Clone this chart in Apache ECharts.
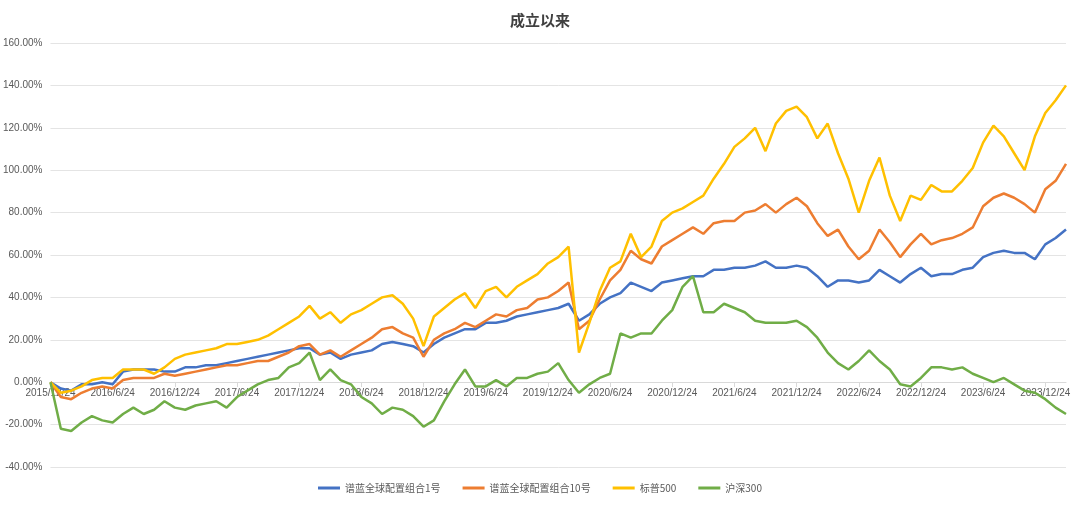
<!DOCTYPE html>
<html><head><meta charset="utf-8">
<script src="https://cdn.jsdelivr.net/npm/echarts@6/dist/echarts.min.js"></script>
<style>html,body{margin:0;padding:0;background:#fff}#c{width:1080px;height:506px}</style>
</head><body><div id="c"></div>
<script>
const categories = [];
for (let y = 2015, m = 12, k = 0; k < 99; k++) { categories.push(y + '/' + m + '/24'); m++; if (m > 12) { m = 1; y++; } }
const seriesNames = ['谱蓝全球配置组合1号', '谱蓝全球配置组合10号', '标普500', '沪深300'];
const fund1 = [0,-3,-4,-1,-1,0,-1,5,6,6,6,5,5,7,7,8,8,9,10,11,12,13,14,15,16,16,13,14,11,13,14,15,18,19,18,17,14,18,21,23,25,25,28,28,29,31,32,33,34,35,37,29,32,37,40,42,47,45,43,47,48,49,50,50,53,53,54,54,55,57,54,54,55,54,50,45,48,48,47,48,53,50,47,51,54,50,51,51,53,54,59,61,62,61,61,58,65,68,72];
const fund10 = [0,-7,-8,-5,-3,-2,-3,1,2,2,2,4,3,4,5,6,7,8,8,9,10,10,12,14,17,18,13,15,12,15,18,21,25,26,23,21,12,20,23,25,28,26,29,32,31,34,35,39,40,43,47,25,29,39,48,53,62,58,56,64,67,70,73,70,75,76,76,80,81,84,80,84,87,83,75,69,72,64,58,62,72,66,59,65,70,65,67,68,70,73,83,87,89,87,84,80,91,95,103];
const sp500 = [0,-5,-4,-2,1,2,2,6,6,6,4,7,11,13,14,15,16,18,18,19,20,22,25,28,31,36,30,33,28,32,34,37,40,41,37,30,17,31,35,39,42,35,43,45,40,45,48,51,56,59,64,14,28,43,54,57,70,59,64,76,80,82,85,88,96,103,111,115,120,109,122,128,130,125,115,122,108,96,80,95,106,88,76,88,86,93,90,90,95,101,113,121,116,108,100,116,127,133,140];
const csi300 = [0,-22,-23,-19,-16,-18,-19,-15,-12,-15,-13,-9,-12,-13,-11,-10,-9,-12,-7,-4,-1,1,2,7,9,14,1,6,1,-1,-7,-10,-15,-12,-13,-16,-21,-18,-9,-1,6,-2,-2,1,-2,2,2,4,5,9,1,-5,-1,2,4,23,21,23,23,29,34,45,50,33,33,37,35,33,29,28,28,28,29,26,21,14,9,6,10,15,10,6,-1,-2,2,7,7,6,7,4,2,0,2,-1,-4,-5,-8,-12,-15];
const colors = ['#4472C4', '#ED7D31', '#FFC000', '#70AD47'];
const data = [fund1, fund10, sp500, csi300];
const chart = echarts.init(document.getElementById('c'));
chart.setOption({
  animation: false,
  title: { text: '成立以来', left: 'center', top: 8, textStyle: { fontSize: 15, fontWeight: 'bold', color: '#404040', fontFamily: 'Noto Sans CJK SC' } },
  legend: { bottom: 8, itemWidth: 22, itemHeight: 3, itemGap: 22, icon: 'rect', textStyle: { fontSize: 10, color: '#595959', fontFamily: 'Noto Sans CJK SC' }, data: seriesNames },
  grid: { left: 50, right: 14, top: 43, bottom: 39 },
  xAxis: {
    type: 'category', data: categories, boundaryGap: false, offset: -85,
    axisLine: { onZero: false, lineStyle: { color: '#d9d9d9' } },
    axisTick: { show: true, interval: 5, lineStyle: { color: '#d9d9d9' } },
    axisLabel: { interval: 5, color: '#595959', fontSize: 10, margin: 6 }
  },
  yAxis: {
    type: 'value', min: -40, max: 160, interval: 20,
    axisLine: { show: false }, axisTick: { show: false },
    splitLine: { lineStyle: { color: '#e4e4e4' } },
    axisLabel: { formatter: v => v.toFixed(2) + '%', color: '#595959', fontSize: 10 }
  },
  series: data.map((d, i) => ({
    name: seriesNames[i], type: 'line', data: d, showSymbol: false, symbol: 'none',
    lineStyle: { width: 2.5, color: colors[i] }, itemStyle: { color: colors[i] }
  }))
});
</script></body></html>
